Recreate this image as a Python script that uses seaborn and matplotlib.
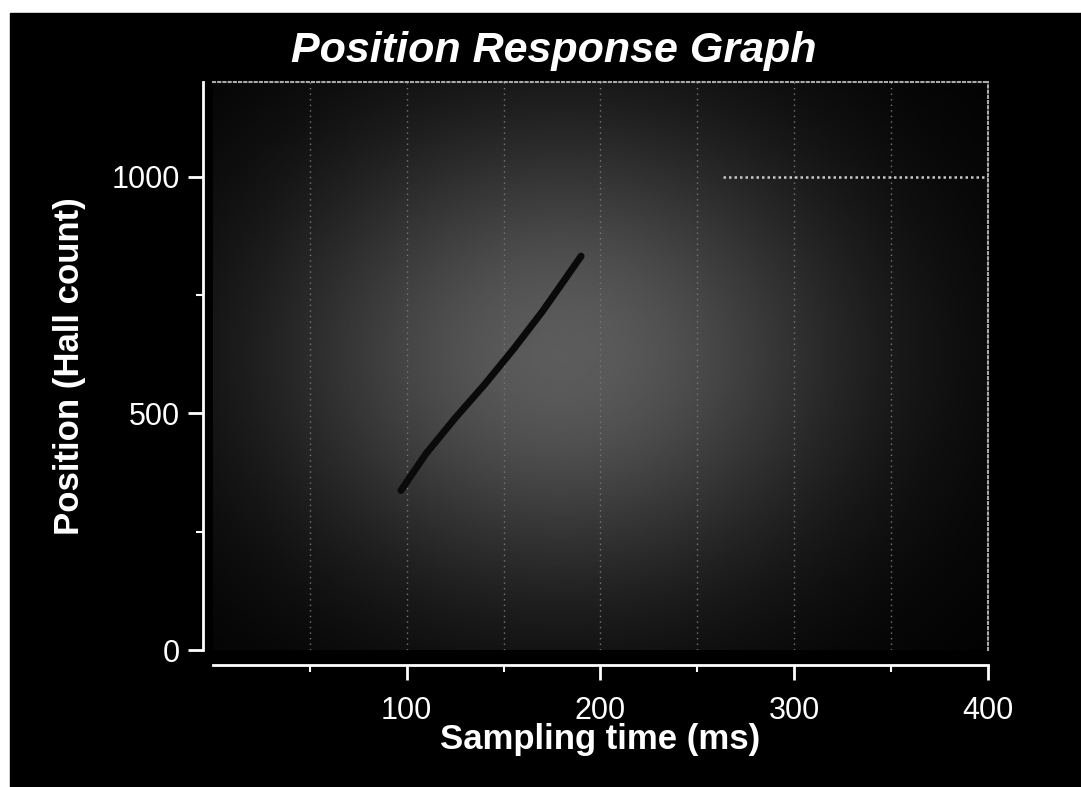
import numpy as np
import pandas as pd
import matplotlib
matplotlib.use('Agg')
import matplotlib.pyplot as plt
from matplotlib.patches import Rectangle
import seaborn as sns

# data
ramp_time = [97, 110, 125, 140, 155, 170, 182, 190]      # ms
ramp_pos = [337, 415, 490, 560, 635, 715, 785, 832]      # hall counts
hold_time = [263, 400]
hold_pos = [1000, 1000]
x_major = [100, 200, 300, 400]
x_minor = [50, 150, 250, 350]
y_major = [0, 500, 1000]
y_minor = [250, 750]

ramp = pd.DataFrame({'t': ramp_time, 'pos': ramp_pos})
hold = pd.DataFrame({'t': hold_time, 'pos': hold_pos})

sns.set_style('dark')
plt.rcParams['font.family'] = ['Liberation Sans', 'DejaVu Sans']

fig = plt.figure(figsize=(10.81, 7.87), dpi=100, facecolor='white')
# scanned page: white margin at top/left, black panel
fig.patches.append(Rectangle((10 / 1081, 0), 1 - 10 / 1081, 1 - 13 / 787,
                             transform=fig.transFigure, color='black', zorder=-10))

ax = fig.add_axes([0.197, 0.174, 0.717, 0.722])
ax.set_facecolor('black')

# dithered grey glow behind the trace
gx, gy = np.meshgrid(np.linspace(0, 1, 300), np.linspace(0, 1, 300))
glow = 0.36 * np.exp(-((gx - 0.45) / 0.27) ** 2 / 2 - ((gy - 0.52) / 0.30) ** 2 / 2)
ax.imshow(glow, extent=[0, 400, 0, 1200], origin='lower', aspect='auto',
          cmap='gray', vmin=0, vmax=1, zorder=0)

sns.lineplot(data=ramp, x='t', y='pos', color='#0a0a0a', linewidth=5, ax=ax, zorder=3)
sns.lineplot(data=hold, x='t', y='pos', color='#c8c8c8', linewidth=1.8,
             linestyle=(0, (1, 1.2)), ax=ax, zorder=3)

ax.set_xlim(0, 400)
ax.set_ylim(0, 1200)
ax.set_xticks(x_major)
ax.set_xticks(x_minor, minor=True)
ax.set_yticks(y_major)
ax.set_yticks(y_minor, minor=True)

ax.grid(False)
for v in x_minor + x_major[:-1]:
    ax.axvline(v, color='#777777', lw=1, ls=(0, (1, 3)), zorder=1)

for s in ['top', 'right']:
    ax.spines[s].set_visible(True)
    ax.spines[s].set_color('#aaaaaa')
    ax.spines[s].set_linestyle((0, (1, 1.5)))
    ax.spines[s].set_linewidth(1.5)
for s in ['left', 'bottom']:
    ax.spines[s].set_visible(True)
    ax.spines[s].set_color('white')
    ax.spines[s].set_linewidth(2)
ax.spines['left'].set_position(('outward', 7))
ax.spines['bottom'].set_position(('outward', 11))

tick_font = ['Liberation Sans Narrow', 'Liberation Sans', 'DejaVu Sans']
ax.tick_params(axis='both', which='both', bottom=True, left=True, top=False, right=False)
ax.tick_params(axis='both', which='major', colors='white', length=11, width=2,
               direction='out', labelsize=22, pad=6)
ax.tick_params(axis='both', which='minor', colors='white', length=5, width=1.5,
               direction='out')
ax.tick_params(axis='x', which='major', pad=11)
for lab in ax.get_xticklabels() + ax.get_yticklabels():
    lab.set_family(tick_font)

ax.set_title('Position Response Graph', color='white', fontsize=31,
             fontweight='bold', fontstyle='italic', pad=14, x=0.44)
ax.set_xlabel('Sampling time (ms)', color='white', fontsize=25,
              fontweight='bold', labelpad=-2)
ax.set_ylabel('Position (Hall count)', color='white', fontsize=25,
              fontweight='bold', labelpad=18)

fig.savefig('out.png', dpi=100, facecolor=fig.get_facecolor())
